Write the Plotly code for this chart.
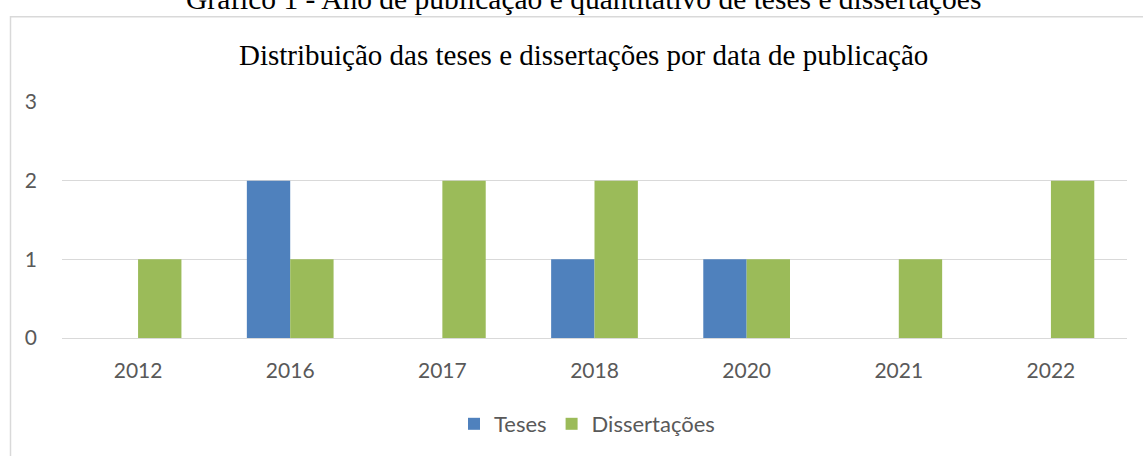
import plotly.graph_objects as go

anos = ["2012", "2016", "2017", "2018", "2020", "2021", "2022"]
teses = [0, 2, 0, 1, 1, 0, 0]
dissertacoes = [1, 1, 2, 2, 1, 1, 2]
y_ticks = [0, 1, 2, 3]

W, H = 1143, 456
L, R, T, B = 62, 16, 102, 117
pw, ph = W - L - R, H - T - B

def px_x(p):
    return (p - L) / pw

def px_y(p):
    return (H - B - p) / ph

fig = go.Figure()
fig.add_trace(go.Bar(x=anos, y=teses, name="Teses", marker=dict(color="#4f81bd", line=dict(width=0))))
fig.add_trace(go.Bar(x=anos, y=dissertacoes, name="Dissertações", marker=dict(color="#9bbb59", line=dict(width=0))))

fig.update_layout(
    width=W, height=H,
    margin=dict(l=L, r=R, t=T, b=B),
    paper_bgcolor="white", plot_bgcolor="white",
    barmode="group", bargap=0.43, bargroupgap=0,
    showlegend=True,
    legend=dict(orientation="h", x=px_x(587), xanchor="center", y=px_y(424), yanchor="middle",
                font=dict(family="Lato, Open Sans, sans-serif", size=22, color="#595959"),
                itemwidth=30, traceorder="normal"),
    font=dict(family="Lato, Open Sans, sans-serif", color="#595959"),
)
fig.update_xaxes(type="category", showgrid=False, showline=False, zeroline=False,
                 tickfont=dict(size=21, color="#595959"), ticks="", ticklabelstandoff=18)
fig.update_yaxes(range=[0, 3], tickvals=y_ticks, showgrid=True, gridcolor="#d9d9d9", gridwidth=1,
                 zeroline=True, zerolinecolor="#d9d9d9", zerolinewidth=1, showline=False,
                 tickfont=dict(size=21, color="#595959"), ticks="", ticklabelstandoff=24)

fig.add_shape(type="rect", xref="paper", yref="paper",
              x0=px_x(10.5), x1=px_x(1250), y0=px_y(520), y1=px_y(16.5),
              line=dict(color="#d9d9d9", width=1.5), fillcolor="rgba(0,0,0,0)", layer="below")

fig.add_annotation(text="Distribuição das teses e dissertações por data de publicação",
                   xref="paper", yref="paper", x=px_x(583), y=px_y(55), xanchor="center", yanchor="middle",
                   showarrow=False, font=dict(family="Liberation Serif, Times New Roman, serif", size=29, color="black"))
fig.add_annotation(text="Gráfico 1 - Ano de publicação e quantitativo de teses e dissertações",
                   xref="paper", yref="paper", x=px_x(583), y=px_y(-1), xanchor="center", yanchor="middle",
                   showarrow=False, font=dict(family="Liberation Serif, Times New Roman, serif", size=29.5, color="black"))

fig.write_html("out.html", config={"displayModeBar": False},
               post_script="document.body.style.margin='0';document.body.style.overflow='hidden';")
